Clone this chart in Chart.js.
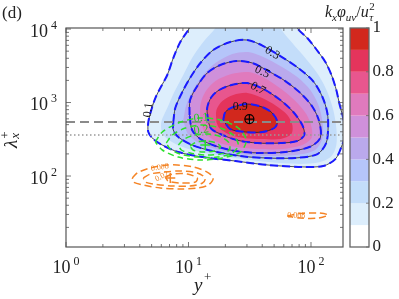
<!DOCTYPE html>
<html>
<head>
<meta charset="utf-8">
<script src="https://cdn.jsdelivr.net/npm/chart.js@4.4.1/dist/chart.umd.min.js"></script>
<style>
  html, body { margin: 0; padding: 0; background: #fff; }
  canvas { display: block; }
</style>
</head>
<body>
<canvas id="myChart" width="399" height="299"></canvas>
<script>
// colour bands of k_x phi_uv / u_tau^2 (0-0.1, 0.1-0.2, ... 0.9-1)
const bandColors = ['#ffffff', '#ddeefc', '#c3ddfa', '#b5c5fa', '#baa9ec', '#cf90da', '#e07abd', '#e8568e', '#e4345c', '#d2281d'];
const cbTicks = [0, 0.2, 0.4, 0.6, 0.8, 1];

// filled contours, points [y+, lambda_x+]
const lev01 = [[12.5,18100],[10.2,10300],[8.57,6660],[7.51,4030],[6.71,2370],[5.89,1580],[5.36,1150],[4.97,791],[4.70,543],[4.70,397],[5.16,319],[6.11,264],[8.26,212],[13.0,181],[24.1,160],[44.8,141],[84.9,133],[126,137],[158,170],[177,248],[190,361],[183,615],[170,985],[161,1480],[147,2370],[131,3560],[110,5350],[93.3,7550],[77.3,10300],[67.8,18100]];
const lev02 = [[18.9,15500],[16.6,10300],[13.2,6660],[10.7,4030],[9.07,2370],[7.66,1390],[6.71,842],[6.0,543],[6.11,385],[7.10,299],[9.42,240],[13.7,206],[24.1,176],[44.8,155],[81.8,146],[119,155],[147,187],[161,264],[161,450],[152,791],[136,1390],[115,2370],[89.8,4030],[70.4,6450],[56.2,10300],[52.1,15500]];
const lev03 = [[7.51,543],[7.80,842],[8.90,1390],[10.3,2160],[12.5,3450],[15.9,5180],[21.9,6660],[30.2,7090],[40.8,5870],[56.2,4290],[78.8,2950],[104,1960],[124,1190],[136,720],[138,450],[133,281],[113,199],[74.5,176],[42.4,176],[26.5,187],[15.6,219],[10.7,264],[8.26,339],[7.51,423]];
const lev04 = [[9.07,578],[9.59,925],[10.9,1480],[13.2,2370],[16.6,3450],[22.8,4570],[30.8,4870],[40.8,4160],[56.2,3140],[77.3,2220],[98.7,1480],[115,925],[124,543],[124,329],[108,226],[74.5,193],[42.4,187],[26.5,199],[16.6,233],[11.8,290],[9.78,385]];
const lev05 = [[10.2,676],[10.3,1080],[11.8,1680],[14.2,2520],[18.2,3240],[24.6,3670],[33.2,3450],[44.8,2680],[61.7,1960],[81.8,1350],[103,869],[117,543],[119,329],[96.9,248],[61.7,212],[37.1,206],[24.1,219],[16.6,256],[12.5,319],[10.7,423]];
const lev06 = [[12.5,543],[12.5,925],[13.7,1390],[16.6,1960],[22.4,2440],[30.8,2600],[41.6,2160],[57.2,1530],[74.5,1050],[91.5,698],[101,464],[101,329],[84.9,264],[58.3,233],[37.1,233],[24.6,248],[17.2,290],[13.7,385]];
const lev07 = [[14.5,543],[14.2,842],[15.4,1190],[17.8,1480],[22.4,1730],[30.2,1840],[40.8,1530],[56.2,1080],[71.7,743],[84.9,494],[88.2,361],[77.3,299],[56.2,281],[36.4,281],[24.6,309],[18.2,373],[15.4,436]];
const lev08 = [[16.9,543],[16.9,791],[18.9,1050],[23.2,1265],[30.2,1350],[40.0,1150],[52.1,896],[64.1,676],[70.4,494],[69.1,373],[56.2,319],[40.0,319],[28.0,329],[21.1,373],[17.8,450]];
const lev09 = [[19.2,578],[20.0,743],[23.2,869],[30.2,954],[40.0,869],[48.3,720],[53.1,543],[50.2,450],[40.0,397],[29.1,397],[21.9,436]];

// green dashed contours
const green1 = [[5.36,290],[6.11,397],[8.26,526],[12.0,615],[18.2,578],[25.5,450],[29.6,309],[26.5,212],[18.9,176],[12.5,165],[8.26,181],[6.11,226]];
const green2 = [[6.59,281],[7.37,361],[9.42,450],[13.0,494],[18.2,450],[23.2,361],[25.5,264],[22.8,206],[17.2,181],[12.0,181],[8.57,199],[7.10,233]];
const green3 = [[8.26,264],[9.24,319],[11.4,361],[14.5,373],[18.5,339],[21.5,281],[21.5,226],[18.2,199],[13.7,193],[10.3,206],[8.74,226]];
const green4 = [[10.3,256],[11.6,290],[14.0,299],[16.9,281],[18.2,248],[16.2,219],[13.2,212],[10.9,226]];

// orange dashed contours
const orange1 = [[3.48,93.9],[3.82,110],[4.88,129],[6.71,141],[8.10,141],[10.9,133],[14.2,113],[15.9,93.9],[14.5,75.4],[11.8,68.7],[8.57,66.6],[5.89,68.7],[4.28,75.4],[3.54,82.9]];
const orange2 = [[4.28,93.9],[4.88,106.5],[6.23,113],[8.57,117],[11.8,110],[13.7,93.9],[13.0,80.3],[10.3,73.1],[7.51,73.1],[5.16,77.9],[4.44,82.9]];
const orange3 = [[6.47,96.9],[7.51,106.5],[9.78,106.5],[11.8,93.9],[11.4,82.9],[8.57,80.3],[6.84,85.5]];
const orange4 = [[64,28.6],[81.8,30.9],[115,31.4],[138,29.5],[115,26.8],[81.8,26.8]];

// reference lines and peaks
const lamDashed = 543;
const lamDotted = 361;
const peakMain = [31.4, 596];
const peakGreen = [13.7, 264];
const peakOrange = [7.10, 93.9];

// contour labels
const labelText = ['0.1', '0.3', '0.5', '0.7', '0.9', '0.1', '0.2', '0.008', '0.02', '0.008'];
const labelAt = [[4.70,791],[48.3,4720],[40.0,2600],[36.9,1550],[26.5,869],[12.7,615],[12.7,423],[5.83,130.5],[6.06,98.4],[75.9,29.0]];
const labelRot = [-1.45, 0.55, 0.45, 0.5, 0, -0.1, -0.15, -0.15, -0.45, 0];
const labelColor = ['#111','#111','#111','#111','#111','#22cc22','#22cc22','#f08020','#f08020','#f08020'];

const xMajor = [1, 10, 100];
const xMinor = [2,3,4,5,6,7,8,9,20,30,40,50,60,70,80,90];
const yMajor = [100, 1000, 10000];
const yMinor = [20,30,40,50,60,70,80,90,200,300,400,500,600,700,800,900,2000,3000,4000,5000,6000,7000,8000,9000];

const closed = a => a.concat([a[0]]).map(([x, y]) => ({x, y}));

function fillSet(data, color, order) {
  return {data: closed(data), showLine: true, fill: 'shape', backgroundColor: color,
    borderColor: 'rgba(0,0,0,0)', borderWidth: 1, pointRadius: 0, tension: 0.3, order};
}
function lineSet(data, color, width, dash, order) {
  return {data: closed(data), showLine: true, fill: false, borderColor: color,
    borderWidth: width, borderDash: dash, pointRadius: 0, tension: 0.3, order};
}
function hLine(v, color, width, dash) {
  return {data: [{x: 1, y: v}, {x: 182.5, y: v}], showLine: true, fill: false, borderColor: color,
    borderWidth: width, borderDash: dash, pointRadius: 0, order: 30};
}
function marker(p, style, color, r, w) {
  return {data: [{x: p[0], y: p[1]}], showLine: false, pointStyle: style, pointRadius: r,
    pointBorderColor: color, pointBackgroundColor: 'rgba(0,0,0,0)', pointBorderWidth: w, order: 5};
}

const levels = [lev01, lev02, lev03, lev04, lev05, lev06, lev07, lev08, lev09];
const datasets = [];
levels.forEach((lv, i) => datasets.push(fillSet(lv, bandColors[i + 1], 100 - i)));
[lev01, lev03, lev05, lev07, lev09].forEach(lv => datasets.push(lineSet(lv, '#222', 0.8, [], 50)));
[lev01, lev03, lev05, lev07, lev09].forEach(lv => datasets.push(lineSet(lv, '#1a1aff', 2, [8, 4], 45)));
datasets.push(hLine(lamDashed, '#8a8a8a', 2, [9, 5]));
datasets.push(hLine(lamDotted, '#999', 1.5, [1.5, 2.5]));
[green1, green2, green3, green4].forEach(g => datasets.push(lineSet(g, '#2ee02e', 1.5, [6, 4], 20)));
[orange1, orange2, orange3, orange4].forEach(o => datasets.push(lineSet(o, '#f58426', 1.5, [7, 4], 20)));
datasets.push(marker(peakMain, 'circle', '#000', 4.5, 1.2));
datasets.push(marker(peakMain, 'cross', '#000', 4.5, 1.2));
datasets.push(marker(peakGreen, 'cross', '#2ee02e', 5, 1.5));
datasets.push(marker(peakOrange, 'cross', '#f58426', 5, 1.5));

const serif = '"Liberation Serif", "DejaVu Serif", serif';

function powLabel(ctx, e, cx, base, align) {
  ctx.font = '18px ' + serif;
  const w1 = ctx.measureText('10').width;
  ctx.font = '12px ' + serif;
  const w2 = ctx.measureText(String(e)).width;
  const gap = 3;
  const total = w1 + gap + w2;
  const x0 = align === 'right' ? cx - total : cx - total / 2;
  ctx.textAlign = 'left';
  ctx.textBaseline = 'alphabetic';
  ctx.font = '18px ' + serif;
  ctx.fillText('10', x0, base);
  ctx.font = '12px ' + serif;
  ctx.fillText(String(e), x0 + w1 + gap, base - 8);
}

const decor = {
  id: 'decor',
  beforeDraw(chart) {
    const ctx = chart.ctx;
    ctx.save();
    ctx.fillStyle = '#fff';
    ctx.fillRect(0, 0, chart.width, chart.height);
    ctx.restore();
  },
  afterDatasetsDraw(chart) {
    const {ctx, scales: {x, y}} = chart;
    ctx.save();
    ctx.textAlign = 'center';
    ctx.textBaseline = 'middle';
    labelText.forEach((t, i) => {
      ctx.save();
      ctx.translate(x.getPixelForValue(labelAt[i][0]), y.getPixelForValue(labelAt[i][1]));
      ctx.rotate(labelRot[i]);
      ctx.font = (i >= 7 ? '8px ' : '12px ') + serif;
      ctx.fillStyle = labelColor[i];
      ctx.fillText(t, 0, 0);
      ctx.restore();
    });
    ctx.restore();
  },
  afterDraw(chart) {
    const {ctx, chartArea: {left, right, top, bottom}, scales: {x, y}} = chart;
    ctx.save();
    // axes box and ticks
    ctx.strokeStyle = '#555';
    ctx.lineWidth = 1.2;
    ctx.strokeRect(left, top, right - left, bottom - top);
    ctx.beginPath();
    const xt = (vals, len) => vals.forEach(v => {
      const p = x.getPixelForValue(v);
      ctx.moveTo(p, bottom); ctx.lineTo(p, bottom - len);
      ctx.moveTo(p, top); ctx.lineTo(p, top + len);
    });
    const yt = (vals, len) => vals.forEach(v => {
      const p = y.getPixelForValue(v);
      ctx.moveTo(left, p); ctx.lineTo(left + len, p);
      ctx.moveTo(right, p); ctx.lineTo(right - len, p);
    });
    xt(xMajor, 5); xt(xMinor, 3);
    yt(yMajor, 5); yt(yMinor, 3);
    ctx.lineWidth = 0.8;
    ctx.stroke();

    // tick labels
    ctx.fillStyle = '#222';
    xMajor.forEach((v, i) => powLabel(ctx, i, x.getPixelForValue(v), 273, 'center'));
    yMajor.forEach((v, i) => powLabel(ctx, i + 2, 57, y.getPixelForValue(v) + 7.5, 'right'));

    // axis titles
    ctx.font = 'italic 19px ' + serif;
    ctx.fillText('y', 194, 291);
    ctx.font = '13px ' + serif;
    ctx.fillText('+', 204, 281);
    ctx.save();
    ctx.translate(17, 148);
    ctx.rotate(-Math.PI / 2);
    ctx.font = 'italic 19px ' + serif;
    ctx.fillText('λ', 0, 0);
    const wl = ctx.measureText('λ').width;
    ctx.font = 'italic 13px ' + serif;
    ctx.fillText('x', wl + 1, 2);
    ctx.font = '13px ' + serif;
    ctx.fillText('+', wl + 1, -8);
    ctx.restore();

    ctx.font = '17px ' + serif;
    ctx.fillText('(d)', 2, 18);

    // colour bar
    const cl = 350, cr = 369;
    const cy = v => bottom - v * (bottom - top);
    bandColors.forEach((c, i) => {
      ctx.fillStyle = c;
      ctx.fillRect(cl, cy((i + 1) / 10), cr - cl, cy(i / 10) - cy((i + 1) / 10));
    });
    ctx.strokeStyle = '#666';
    ctx.lineWidth = 1.3;
    ctx.strokeRect(cl, top, cr - cl, bottom - top);
    ctx.beginPath();
    cbTicks.forEach(v => { ctx.moveTo(cr, cy(v)); ctx.lineTo(cr - 3, cy(v)); });
    ctx.lineWidth = 0.8;
    ctx.stroke();
    ctx.fillStyle = '#222';
    ctx.font = '17px ' + serif;
    ctx.textBaseline = 'middle';
    cbTicks.forEach(v => ctx.fillText(String(v), 372.5, cy(v)));

    // colour bar title k_x phi_uv / u_tau^2
    ctx.textBaseline = 'alphabetic';
    let cx = 325;
    const run = (t, size, dy, italic) => {
      ctx.font = (italic ? 'italic ' : '') + size + 'px ' + serif;
      ctx.fillText(t, cx, 17 + dy);
      cx += ctx.measureText(t).width;
    };
    run('k', 16, 0, true);
    run('x', 11, 4, true);
    run('φ', 16, 0, true);
    run('uv', 11, 4, true);
    run('/', 16, 0, false);
    run('u', 16, 0, true);
    ctx.font = '11px ' + serif;
    ctx.fillText('2', cx + 0.5, 10);
    ctx.font = 'italic 11px ' + serif;
    ctx.fillText('τ', cx + 0.5, 21);
    ctx.restore();
  }
};

new Chart(document.getElementById('myChart'), {
  type: 'scatter',
  data: {datasets},
  options: {
    responsive: false,
    animation: false,
    events: [],
    layout: {padding: {left: 66, right: 56, top: 28, bottom: 52}},
    scales: {
      x: {type: 'logarithmic', min: 1, max: 182.5, display: false},
      y: {type: 'logarithmic', min: 10.82, max: 10330, display: false}
    },
    plugins: {
      legend: {display: false},
      tooltip: {enabled: false},
      filler: {propagate: false}
    }
  },
  plugins: [decor]
});
</script>
</body>
</html>
